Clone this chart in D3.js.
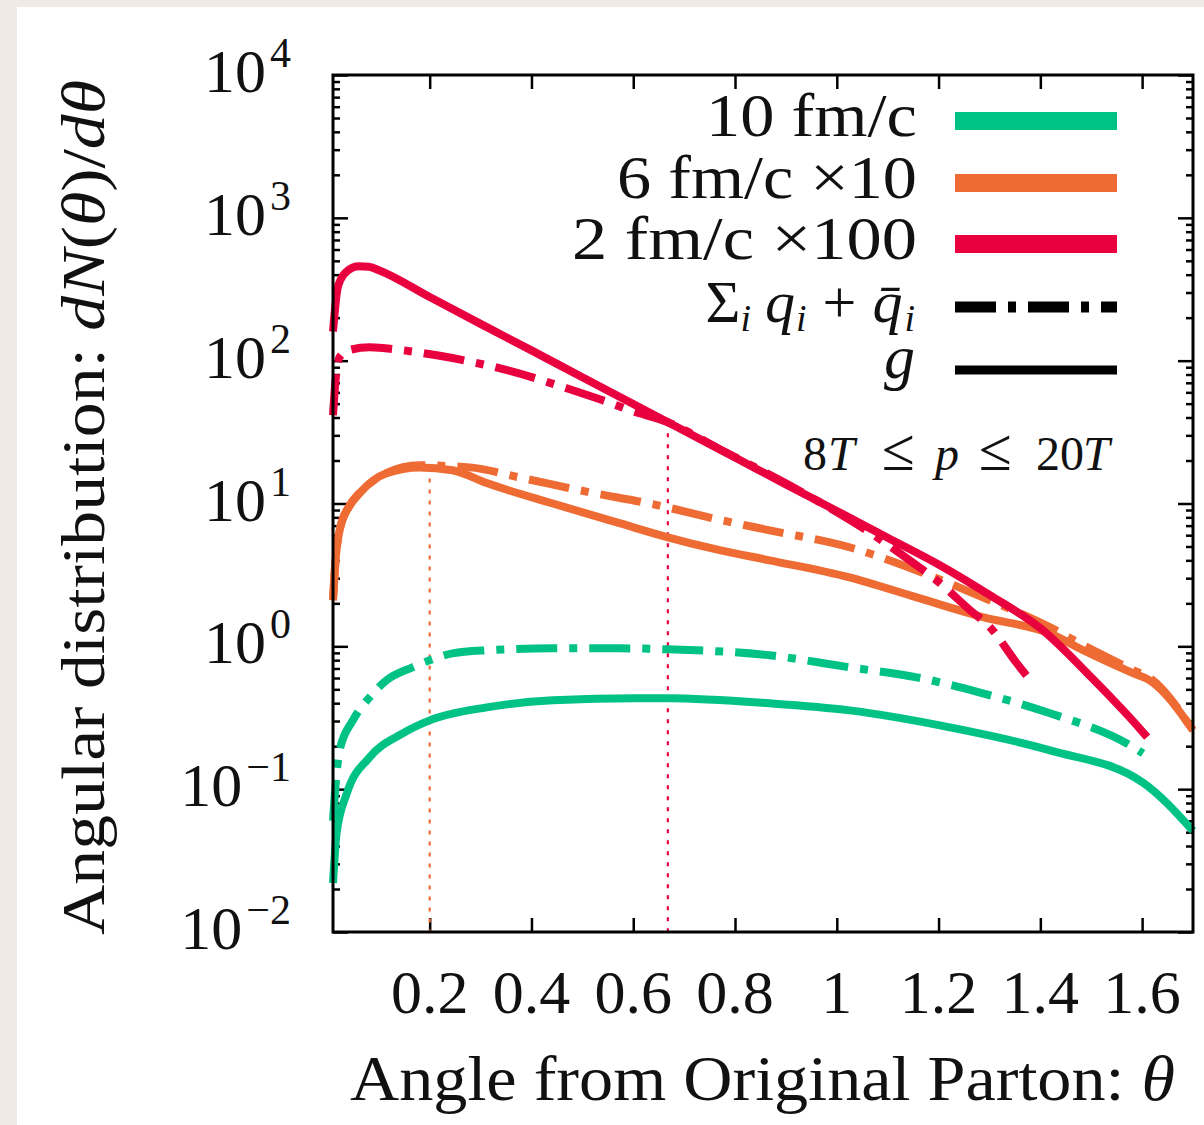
<!DOCTYPE html>
<html><head><meta charset="utf-8">
<script src="https://cdn.jsdelivr.net/npm/d3@7"></script>
<style>
body{margin:0;background:#efebe4;}
svg{display:block;}
</style>
</head><body>
<svg id="c" width="1204" height="1125"></svg>
<script>
// ---------- data ----------
const xTicks = [0.2, 0.4, 0.6, 0.8, 1, 1.2, 1.4, 1.6];
const xTickLabels = ["0.2", "0.4", "0.6", "0.8", "1", "1.2", "1.4", "1.6"];
const yTickExps = [-2, -1, 0, 1, 2, 3, 4];
const yTickLabels = ["\u22122", "\u22121", "0", "1", "2", "3", "4"];

const seriesNames = ["10 fm/c", "6 fm/c \u00d710", "2 fm/c \u00d7100"];
const seriesColors = ["#00c285", "#ef6b34", "#e9003f"];

// 10 fm/c, gluons (solid)
const thetaG10 = [0.01, 0.017, 0.037, 0.082, 0.147, 0.2, 0.312, 0.442, 0.607, 0.668, 0.868, 1.025, 1.222, 1.419, 1.602, 1.70];
const valG10   = [0.022, 0.049, 0.093, 0.167, 0.246, 0.303, 0.374, 0.419, 0.433, 0.433, 0.399, 0.356, 0.271, 0.187, 0.111, 0.051];
// 10 fm/c, quarks (dash-dot)
const thetaQ10 = [0.01, 0.015, 0.023, 0.049, 0.082, 0.115, 0.166, 0.2, 0.245, 0.312, 0.442, 0.573, 0.668, 0.868, 1.025, 1.157, 1.287, 1.419, 1.57, 1.602];
const valQ10   = [0.06, 0.106, 0.187, 0.303, 0.44, 0.578, 0.713, 0.798, 0.893, 0.938, 0.968, 0.968, 0.953, 0.865, 0.713, 0.607, 0.469, 0.34, 0.209, 0.178];
// 6 fm/c x10, gluons
const thetaG6 = [0.01, 0.015, 0.023, 0.043, 0.062, 0.115, 0.18, 0.245, 0.312, 0.442, 0.573, 0.668, 0.77, 0.868, 1.025, 1.157, 1.287, 1.419, 1.484, 1.583, 1.615, 1.70];
const valG6   = [2.1, 4.0, 6.5, 9.7, 11.8, 16.3, 17.9, 17.1, 13.9, 10.0, 7.28, 5.80, 4.71, 4.0, 3.04, 2.20, 1.60, 1.23, 0.94, 0.647, 0.578, 0.258];
// 6 fm/c x10, quarks
const thetaQ6 = [0.01, 0.015, 0.023, 0.043, 0.062, 0.115, 0.18, 0.279, 0.377, 0.508, 0.638, 0.77, 0.868, 1.025, 1.157, 1.287, 1.419, 1.484, 1.583, 1.615, 1.70];
const valQ6   = [2.1, 4.0, 6.5, 9.7, 11.8, 16.3, 18.5, 17.9, 15.2, 12.1, 9.9, 7.69, 6.49, 4.94, 3.40, 2.20, 1.36, 1.02, 0.68, 0.60, 0.258];
// 2 fm/c x100, gluons
const thetaG2 = [0.01, 0.02, 0.04, 0.06, 0.08, 0.1, 0.2, 0.3, 0.4, 0.5, 0.6, 0.7, 0.8, 0.9, 1.0, 1.1, 1.2, 1.3, 1.4, 1.5, 1.6, 1.61];
const valG2   = [160, 333, 430, 459, 455, 430, 279, 181, 118, 76.5, 49.7, 32.3, 21.0, 13.6, 8.87, 5.76, 3.74, 2.29, 1.34, 0.607, 0.254, 0.231];
// 2 fm/c x100, quarks
const thetaQ2 = [0.01, 0.015, 0.023, 0.043, 0.082, 0.141, 0.214, 0.352, 0.481, 0.54, 0.593, 0.668, 0.77, 0.928, 1.079, 1.143, 1.196, 1.262, 1.301, 1.354, 1.385];
const valQ2   = [41.5, 73, 106, 119, 124, 119, 109, 85.8, 62.1, 52.8, 45.0, 37.1, 24.0, 12.2, 5.8, 4.0, 2.9, 1.79, 1.36, 0.76, 0.551];

// mean-angle markers (dotted verticals): 6 fm/c and 2 fm/c
const markerTheta = [0.2, 0.668];
const markerTop   = [17.9, 37.1];
const markerSeries = [1, 2];

// ---------- layout ----------
const FONT = '"Liberation Serif"';
const svg = d3.select("#c");
svg.append("rect").attr("x", 17).attr("y", 7).attr("width", 1187).attr("height", 1118).attr("fill", "#fff");

const L = 333, R = 1193, T = 75, B = 932;
const x = d3.scaleLinear().domain([0.01, 1.70]).range([L, R]);
const y = d3.scaleLog().domain([1e-2, 1e4]).range([B, T]);

const majorY = yTickExps.map(e => Math.pow(10, e));
const minorY = [];
for (let e = -2; e < 4; e++) for (let k = 2; k <= 9; k++) minorY.push(k * Math.pow(10, e));

function styleAxis(g) {
  g.select(".domain").remove();
  g.selectAll("line").attr("stroke", "#000").attr("stroke-width", 2.5);
  g.selectAll("text").remove();
}
svg.append("g").attr("transform", `translate(${L},0)`).call(d3.axisLeft(y).tickValues(majorY).tickSize(-15).tickFormat("")).call(styleAxis);
svg.append("g").attr("transform", `translate(${L},0)`).call(d3.axisLeft(y).tickValues(minorY).tickSize(-7).tickFormat("")).call(styleAxis);
svg.append("g").attr("transform", `translate(${R},0)`).call(d3.axisRight(y).tickValues(majorY).tickSize(-15).tickFormat("")).call(styleAxis);
svg.append("g").attr("transform", `translate(${R},0)`).call(d3.axisRight(y).tickValues(minorY).tickSize(-7).tickFormat("")).call(styleAxis);
svg.append("g").attr("transform", `translate(0,${B})`).call(d3.axisBottom(x).tickValues(xTicks).tickSize(-14).tickFormat("")).call(styleAxis);
svg.append("g").attr("transform", `translate(0,${T})`).call(d3.axisTop(x).tickValues(xTicks).tickSize(-14).tickFormat("")).call(styleAxis);

// dotted markers
markerTheta.forEach((t, i) => {
  svg.append("line")
    .attr("x1", x(t)).attr("x2", x(t))
    .attr("y1", y(markerTop[i])).attr("y2", B)
    .attr("stroke", seriesColors[markerSeries[i]])
    .attr("stroke-width", 2.2)
    .attr("stroke-dasharray", "4 7");
});

// curves
const line = d3.line().x(d => x(d[0])).y(d => y(d[1])).curve(d3.curveMonotoneX);
const dashDot = "41 12 8 12";
const curves = [
  {t: thetaQ10, v: valQ10, c: 0, dash: true},
  {t: thetaG10, v: valG10, c: 0, dash: false},
  {t: thetaQ6,  v: valQ6,  c: 1, dash: true},
  {t: thetaG6,  v: valG6,  c: 1, dash: false},
  {t: thetaQ2,  v: valQ2,  c: 2, dash: true},
  {t: thetaG2,  v: valG2,  c: 2, dash: false}
];
curves.forEach(s => {
  const pts = s.t.map((t, i) => [t, s.v[i]]);
  svg.append("path").datum(pts)
    .attr("d", line)
    .attr("fill", "none")
    .attr("stroke", seriesColors[s.c])
    .attr("stroke-width", 8)
    .attr("stroke-linejoin", "round")
    .attr("stroke-dasharray", s.dash ? dashDot : null);
});

// frame
svg.append("rect").attr("x", L).attr("y", T).attr("width", R - L).attr("height", B - T)
  .attr("fill", "none").attr("stroke", "#000").attr("stroke-width", 3);

function txt(sel) { return sel.append("text").style("font-family", FONT).attr("fill", "#111"); }

// x tick labels
xTicks.forEach((d, i) => {
  txt(svg).attr("x", x(d)).attr("y", 1013)
    .attr("text-anchor", "middle").attr("font-size", 62)
    .text(xTickLabels[i]);
});

// y tick labels
yTickExps.forEach((e, i) => {
  const t = txt(svg).attr("x", 291).attr("y", y(Math.pow(10, e)) + 17)
    .attr("text-anchor", "end").attr("font-size", 62);
  t.append("tspan").text("10");
  t.append("tspan").attr("font-size", 42).attr("dy", -25).attr("dx", 4).text(yTickLabels[i]);
});

// axis titles
const xt = txt(svg).attr("x", 350).attr("y", 1100).attr("font-size", 63)
  .attr("textLength", 825).attr("lengthAdjust", "spacingAndGlyphs");
xt.append("tspan").text("Angle from Original Parton: ");
xt.append("tspan").attr("font-style", "italic").text("\u03b8");

const yt = txt(svg).attr("transform", "translate(104,935) rotate(-90)").attr("font-size", 61)
  .attr("textLength", 855).attr("lengthAdjust", "spacingAndGlyphs");
yt.append("tspan").text("Angular distribution: ");
yt.append("tspan").attr("font-style", "italic").text("dN");
yt.append("tspan").text("(");
yt.append("tspan").attr("font-style", "italic").text("\u03b8");
yt.append("tspan").text(")/");
yt.append("tspan").attr("font-style", "italic").text("d\u03b8");

// legend
const legY = [121, 183, 244, 307, 370];
const legBase = [136, 198, 259, 322, 378];
const legWidths = [211, 300, 345];
seriesNames.forEach((n, i) => {
  svg.append("line").attr("x1", 955).attr("x2", 1117).attr("y1", legY[i]).attr("y2", legY[i])
    .attr("stroke", seriesColors[i]).attr("stroke-width", 18);
  txt(svg).attr("x", 917 - legWidths[i]).attr("y", legBase[i])
    .attr("font-size", 62).attr("textLength", legWidths[i]).attr("lengthAdjust", "spacingAndGlyphs").text(n);
});
svg.append("line").attr("x1", 955).attr("x2", 1117).attr("y1", legY[3]).attr("y2", legY[3])
  .attr("stroke", "#000").attr("stroke-width", 11).attr("stroke-dasharray", dashDot);
svg.append("line").attr("x1", 955).attr("x2", 1117).attr("y1", legY[4]).attr("y2", legY[4])
  .attr("stroke", "#000").attr("stroke-width", 9);

const lq = txt(svg).attr("x", 915).attr("y", legBase[3]).attr("text-anchor", "end").attr("font-size", 60);
lq.append("tspan").text("\u03a3");
lq.append("tspan").attr("font-size", 38).attr("font-style", "italic").attr("dy", 9).text("i");
lq.append("tspan").attr("font-style", "italic").attr("dy", -9).attr("dx", 14).text("q");
lq.append("tspan").attr("font-size", 38).attr("font-style", "italic").attr("dy", 9).attr("dx", 1).text("i");
lq.append("tspan").attr("dy", -9).attr("dx", 16).text("+");
lq.append("tspan").attr("font-style", "italic").attr("dx", 16).text("q\u0304");
lq.append("tspan").attr("font-size", 38).attr("font-style", "italic").attr("dy", 9).attr("dx", 2).text("i");

txt(svg).attr("x", 915).attr("y", legBase[4]).attr("text-anchor", "end")
  .attr("font-size", 62).attr("font-style", "italic").text("g");

// annotation
const an = txt(svg).attr("y", 470).attr("font-size", 48);
an.append("tspan").attr("x", 803).text("8");
an.append("tspan").attr("x", 828).attr("font-style", "italic").text("T");
an.append("tspan").attr("x", 882).attr("font-size", 60).text("\u2264");
an.append("tspan").attr("x", 935).attr("font-style", "italic").text("p");
an.append("tspan").attr("x", 979).attr("font-size", 60).text("\u2264");
an.append("tspan").attr("x", 1036).text("20");
an.append("tspan").attr("x", 1083).attr("font-style", "italic").text("T");
</script>
</body></html>
